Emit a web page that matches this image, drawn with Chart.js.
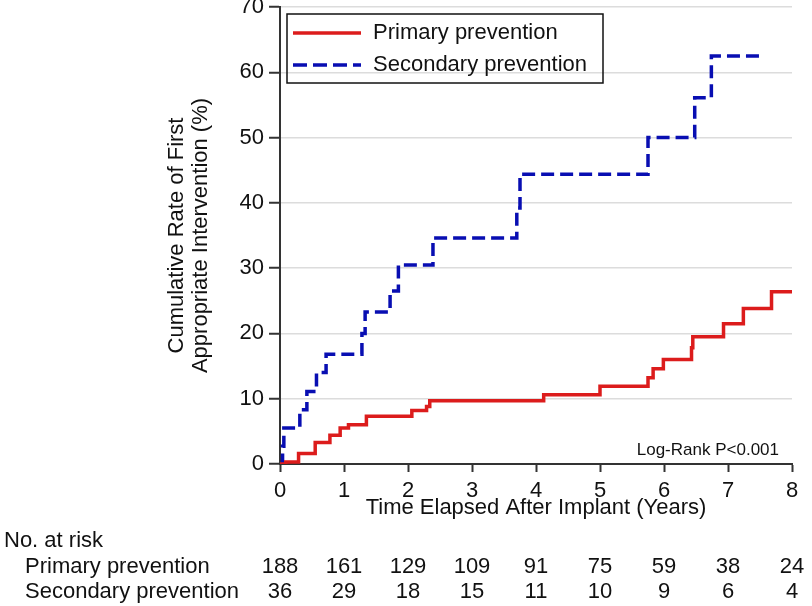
<!DOCTYPE html>
<html>
<head>
<meta charset="utf-8">
<script src="https://cdn.jsdelivr.net/npm/chart.js@4.4.1/dist/chart.umd.min.js"></script>
<style>
  html, body { margin: 0; padding: 0; background: #fff; }
  #wrap { width: 812px; height: 606px; position: relative; }
</style>
</head>
<body>
<div id="wrap"><canvas id="kmChart"></canvas></div>
<script>
// ============================================
// Data
// ============================================

const primaryTimes = [0, 0.09, 0.29, 0.55, 0.78, 0.94, 1.07, 1.35, 2.06, 2.29, 2.34, 4.12, 5.0, 5.75, 5.83, 5.99, 6.43, 6.45, 6.93, 7.24, 7.68, 8.0];
const primaryRates = [0, 0.3, 1.6, 3.3, 4.4, 5.5, 6.0, 7.3, 8.2, 8.8, 9.7, 10.6, 11.9, 13.2, 14.6, 16.0, 17.8, 19.5, 21.5, 23.8, 26.4, 26.4];

const secondaryTimes = [0, 0.04, 0.06, 0.31, 0.42, 0.57, 0.72, 1.28, 1.33, 1.72, 1.85, 2.39, 3.70, 3.75, 5.75, 6.48, 6.74, 7.5];
const secondaryRates = [0, 2.7, 5.5, 8.3, 11.1, 14.0, 16.8, 20.0, 23.3, 26.5, 30.5, 34.6, 39.2, 44.4, 50.0, 56.1, 62.5, 62.5];

const seriesLabels = ['Primary prevention', 'Secondary prevention'];

// No. at risk table
const riskTimes = [0, 1, 2, 3, 4, 5, 6, 7, 8];
const primaryAtRisk = [188, 161, 129, 109, 91, 75, 59, 38, 24];
const secondaryAtRisk = [36, 29, 18, 15, 11, 10, 9, 6, 4];

const pValueText = 'Log-Rank P<0.001';

// ============================================
// Styles
// ============================================

const FONT = '"Liberation Sans", Arial, Helvetica, sans-serif';
const TEXT = '#111';
const RED = 'rgb(220, 28, 28)';
const BLUE = 'rgb(8, 14, 178)';

function toPoints(xs, ys) {
  return xs.map((x, i) => ({ x: x, y: ys[i] }));
}

// Legend box + at-risk table + p-value, drawn on top
const annotationsPlugin = {
  id: 'kmAnnotations',
  afterDraw(chart) {
    const ctx = chart.ctx;
    const xScale = chart.scales.x;
    const area = chart.chartArea;
    ctx.save();

    // legend
    ctx.lineWidth = 1.5;
    ctx.strokeStyle = '#111';
    ctx.strokeRect(287, 14, 316, 69);
    chart.data.datasets.forEach((ds, i) => {
      const y = 33 + i * 32;
      ctx.beginPath();
      ctx.lineWidth = ds.borderWidth;
      ctx.strokeStyle = ds.borderColor;
      ctx.setLineDash(i === 1 ? [14, 6] : []);
      ctx.moveTo(293, y);
      ctx.lineTo(361, y);
      ctx.stroke();
      ctx.setLineDash([]);
      ctx.fillStyle = TEXT;
      ctx.font = '22px ' + FONT;
      ctx.textAlign = 'left';
      ctx.textBaseline = 'middle';
      ctx.fillText(ds.label, 373, y);
    });

    // p-value
    ctx.font = '17px ' + FONT;
    ctx.textAlign = 'right';
    ctx.fillText(pValueText, area.right - 13, 450);

    // at-risk table
    ctx.font = '22px ' + FONT;
    ctx.textAlign = 'left';
    ctx.fillText('No. at risk', 4, 541);
    ctx.fillText(seriesLabels[0], 25, 567);
    ctx.fillText(seriesLabels[1], 25, 592);
    ctx.textAlign = 'center';
    riskTimes.forEach((t, i) => {
      const px = xScale.getPixelForValue(t);
      ctx.fillText(String(primaryAtRisk[i]), px, 567);
      ctx.fillText(String(secondaryAtRisk[i]), px, 592);
    });

    ctx.restore();
  }
};

const ctx = document.getElementById('kmChart');

new Chart(ctx, {
  type: 'line',
  data: {
    datasets: [
      {
        label: seriesLabels[0],
        data: toPoints(primaryTimes, primaryRates),
        borderColor: RED,
        borderWidth: 3.5,
        stepped: 'before',
        pointRadius: 0,
        fill: false
      },
      {
        label: seriesLabels[1],
        data: toPoints(secondaryTimes, secondaryRates),
        borderColor: BLUE,
        borderWidth: 3.5,
        borderDash: [13, 6],
        stepped: 'before',
        pointRadius: 0,
        fill: false
      }
    ]
  },
  options: {
    responsive: true,
    maintainAspectRatio: false,
    animation: false,
    layout: {
      padding: { left: 160, right: 20, top: 7, bottom: 0 }
    },
    plugins: {
      legend: { display: false },
      tooltip: { enabled: false }
    },
    scales: {
      x: {
        type: 'linear',
        min: 0,
        max: 8,
        ticks: {
          stepSize: 1,
          padding: 6,
          color: TEXT,
          font: { family: FONT, size: 22 }
        },
        grid: {
          drawOnChartArea: false,
          tickColor: '#333',
          tickLength: 8,
          tickWidth: 2
        },
        border: { color: '#333', width: 2 },
        title: {
          display: true,
          text: 'Time Elapsed After Implant (Years)',
          color: TEXT,
          font: { family: FONT, size: 22 },
          padding: { top: 0, bottom: 85 }
        },
        afterFit(scale) {
          scale.height = 142;
          scale.paddingLeft = 0;
          scale.paddingRight = 0;
        }
      },
      y: {
        min: 0,
        max: 70,
        ticks: {
          stepSize: 10,
          padding: 5,
          color: TEXT,
          font: { family: FONT, size: 22 }
        },
        grid: {
          color: '#dcdcdc',
          lineWidth: 1.5,
          tickColor: '#333',
          tickLength: 11,
          tickWidth: 2
        },
        border: { color: '#333', width: 2 },
        title: {
          display: true,
          text: ['Cumulative Rate of First', 'Appropriate Intervention (%)'],
          color: TEXT,
          font: { family: FONT, size: 22, lineHeight: 1.08 },
          padding: { top: 5, bottom: 0 }
        },
        afterFit(scale) {
          scale.width = 120;
          scale.paddingTop = 0;
          scale.paddingBottom = 0;
        }
      }
    }
  },
  plugins: [annotationsPlugin]
});
</script>
</body>
</html>
